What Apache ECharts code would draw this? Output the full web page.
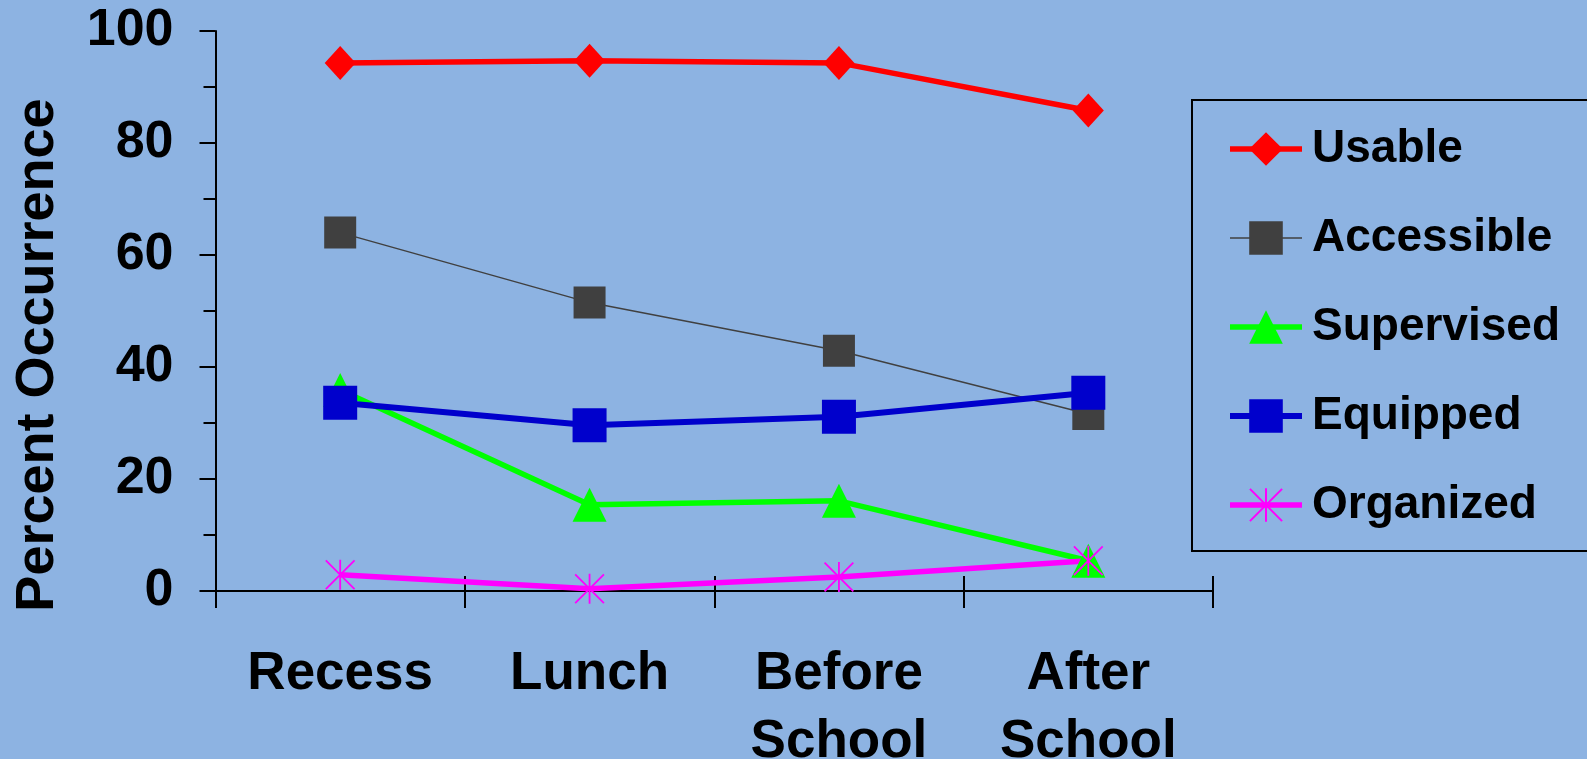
<!DOCTYPE html>
<html>
<head>
<meta charset="utf-8">
<script src="https://cdn.jsdelivr.net/npm/echarts@6/dist/echarts.min.js"></script>
<style>
html,body{margin:0;padding:0;background:#8DB3E2;}
#chart{width:1587px;height:759px;}
</style>
</head>
<body>
<div id="chart"></div>
<script>
const categories = ['Recess', 'Lunch', 'Before\nSchool', 'After\nSchool'];
const yTicks = [0, 20, 40, 60, 80, 100];
const seriesNames = ['Usable', 'Accessible', 'Supervised', 'Equipped', 'Organized'];
const usable = [94.3, 94.7, 94.3, 85.8];
const accessible = [64.0, 51.5, 42.9, 31.6];
const supervised = [35.9, 15.4, 16.1, 5.4];
const equipped = [33.6, 29.6, 31.1, 35.4];
const organized = [2.9, 0.4, 2.5, 5.4];

const FONT = '"Liberation Sans", Arial, sans-serif';
const asterisk = 'path://M47 0H53V100H47Z M0 4.2L4.2 0L100 95.8L95.8 100Z M95.8 0L100 4.2L4.2 100L0 95.8Z';

const colors = ['#FF0000', '#404040', '#00FF00', '#0000CC', '#FF00FF'];
const widths = [5.5, 1.5, 5.5, 6, 5.5];

const chart = echarts.init(document.getElementById('chart'), null, {renderer: 'canvas'});

function mk(i, data, symbol, size) {
  return {
    name: seriesNames[i], type: 'line', data: data,
    symbol: symbol, symbolSize: size, showSymbol: true,
    lineStyle: {color: colors[i], width: widths[i]},
    itemStyle: {color: colors[i], borderWidth: 0},
    emphasis: {disabled: true},
    xAxisIndex: 0, yAxisIndex: 0
  };
}

chart.setOption({
  animation: false,
  backgroundColor: '#8DB3E2',
  textStyle: {fontFamily: FONT},
  grid: {left: 215.5, right: 374, top: 31, bottom: 168, containLabel: false, outerBoundsMode: 'none'},
  legend: {
    orient: 'vertical', left: 1192, top: 100,
    padding: [26, 200, 23, 35],
    borderColor: '#000', borderWidth: 2,
    itemWidth: 72, itemHeight: 42, itemGap: 43,
    textStyle: {fontFamily: FONT, fontWeight: 'bold', fontSize: 46, color: '#000', lineHeight: 42, padding: [0, 0, 0, 5]},
    data: seriesNames.map((n, i) => ({name: n, lineStyle: {width: widths[i], color: colors[i]}}))
  },
  xAxis: [{
    type: 'category', data: categories, boundaryGap: true,
    axisLine: {show: true, lineStyle: {color: '#000', width: 2}},
    axisTick: {show: true, interval: 0, length: 17, inside: false, lineStyle: {color: '#000', width: 2}},
    axisLabel: {interval: 0, margin: 49, fontFamily: FONT, fontWeight: 'bold', fontSize: 53, lineHeight: 68, color: '#000'},
    splitLine: {show: false}
  }, {
    type: 'category', data: categories, boundaryGap: true, position: 'bottom',
    axisLine: {show: false},
    axisTick: {show: true, interval: 0, length: 15, inside: true, lineStyle: {color: '#000', width: 2}},
    axisLabel: {show: false},
    splitLine: {show: false}
  }],
  yAxis: {
    type: 'value', min: yTicks[0], max: yTicks[yTicks.length - 1], interval: 20,
    name: 'Percent Occurrence', nameLocation: 'middle', nameGap: 150,
    nameTextStyle: {fontFamily: FONT, fontWeight: 'bold', fontSize: 54, color: '#000', padding: [0, 88, 0, 0]},
    axisLine: {show: true, lineStyle: {color: '#000', width: 2}},
    axisTick: {show: true, length: 16, lineStyle: {color: '#000', width: 2}},
    minorTick: {show: true, splitNumber: 2, length: 12, lineStyle: {color: '#000', width: 2}},
    axisLabel: {margin: 42, fontFamily: FONT, fontWeight: 'bold', fontSize: 52, color: '#000'},
    splitLine: {show: false}, minorSplitLine: {show: false}
  },
  series: [
    mk(0, usable, 'diamond', [31, 34]),
    mk(1, accessible, 'rect', 32),
    mk(2, supervised, 'triangle', 34),
    mk(3, equipped, 'rect', 34),
    mk(4, organized, asterisk, 30)
  ]
});
</script>
</body>
</html>
